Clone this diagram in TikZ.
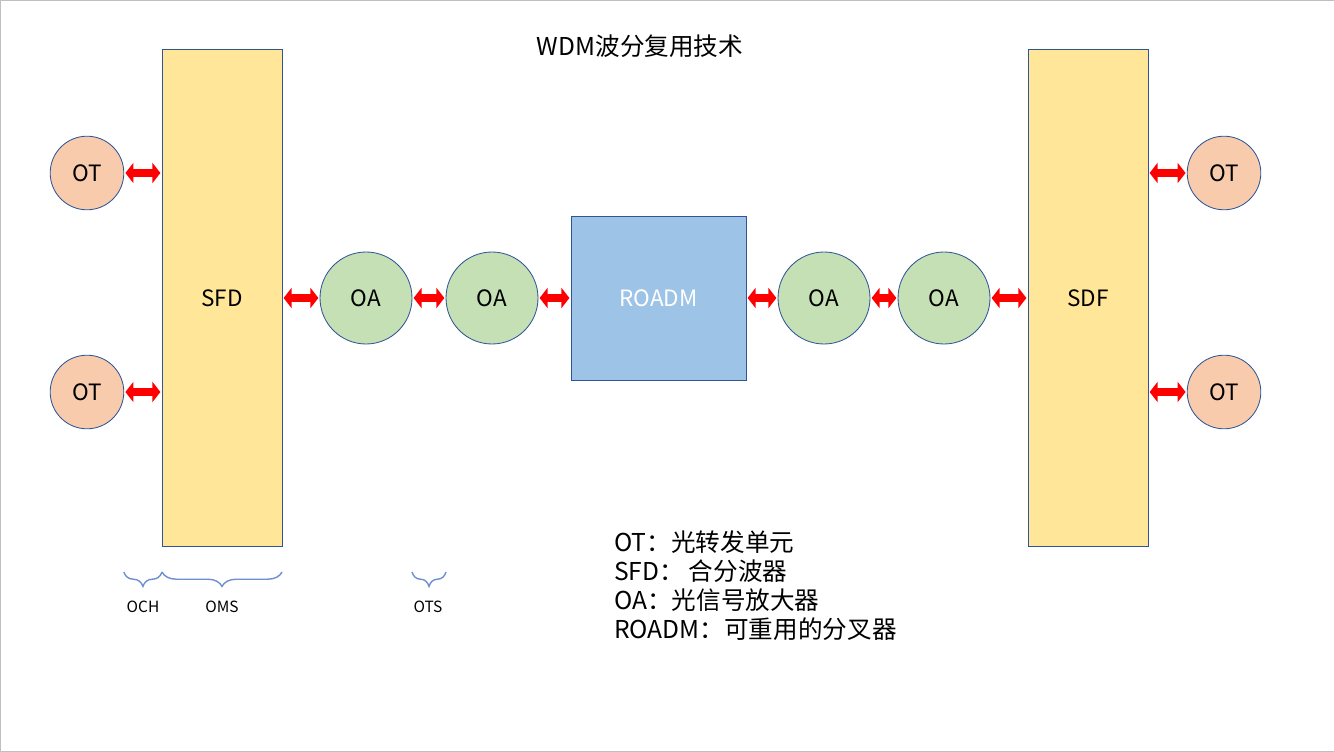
\documentclass[tikz,border=0pt]{standalone}
\usepackage{fontspec}
\setmainfont{Noto Sans CJK SC}
\usetikzlibrary{
    arrows.meta,    % For the double arrow tips
    positioning,    % For relative positioning of nodes
    decorations.pathreplacing % For the braces
}
\definecolor{otfill}{HTML}{F8CBAD}
\definecolor{oafill}{HTML}{C5E0B4}
\definecolor{muxfill}{HTML}{FFE699}
\definecolor{roadmfill}{HTML}{9DC3E6}
\definecolor{edge}{HTML}{2F5597}
\definecolor{bracecol}{HTML}{6F8FD0}
\definecolor{frame}{HTML}{BFBFBF}
\tikzset{
    % Style for the optical transponders
    terminal/.style={
        circle,
        draw=edge,
        line width=0.6pt,
        fill=otfill,
        minimum size=1.84cm,
        inner sep=0pt,
        outer sep=0pt,
        font=\fontsize{16}{19}\selectfont
    },
    % Style for the optical amplifiers
    amp/.style={
        circle,
        draw=edge,
        line width=0.6pt,
        fill=oafill,
        minimum size=2.3cm,
        inner sep=0pt,
        outer sep=0pt,
        font=\fontsize{16}{19}\selectfont
    },
    % Style for the multiplexer columns
    mux/.style={
        rectangle,
        draw=edge,
        line width=0.6pt,
        fill=muxfill,
        minimum width=3cm,
        minimum height=12.425cm,
        outer sep=0pt,
        font=\fontsize{16}{19}\selectfont
    },
    % Style for the ROADM box
    switch/.style={
        rectangle,
        draw=edge,
        line width=0.6pt,
        fill=roadmfill,
        text=white,
        minimum width=4.375cm,
        minimum height=4.1cm,
        outer sep=0pt,
        font=\fontsize{16}{19}\selectfont
    },
    % Style for the red double arrows
    link/.style={
        draw=red,
        line width=0.2cm,
        {Triangle[width=0.5cm,length=0.2cm]}-{Triangle[width=0.5cm,length=0.2cm]},
        shorten <=0.04cm,
        shorten >=0.04cm
    },
    % Style for the section braces
    bracket/.style={
        draw=bracecol,
        line width=1pt,
        decorate,
        decoration={brace, mirror, amplitude=0.36cm}
    },
    % Style for the brace labels
    caption/.style={
        font=\fontsize{11}{13}\selectfont
    }
}

\begin{document}
\begin{tikzpicture}[
            node distance=1cm and 1cm
        ]
        \useasboundingbox (0,0) rectangle (33.35,-18.8);
        \draw[frame, line width=0.025cm] (33.35,-0.0125) -- (0.0125,-0.0125) -- (0.0125,-18.7875) -- (33.35,-18.7875);

        % --- Title ---
        \node (title) at (16,-1.15) {\fontsize{17.5}{20}\selectfont WDM波分复用技术};

        % --- Main chain ---
        \node (sfd)   [mux] at (5.55,-7.45) {SFD};
        \node (oa1)   [amp, right=0.95cm of sfd]  {OA};
        \node (oa2)   [amp, right=0.85cm of oa1]  {OA};
        \node (roadm) [switch, right=0.825cm of oa2] {ROADM};
        \node (oa3)   [amp, right=0.8cm of roadm] {OA};
        \node (oa4)   [amp, right=0.7cm of oa3]   {OA};
        \node (sdf)   [mux, right=0.95cm of oa4]  {SDF};

        % --- Transponders ---
        \node (otl1) [terminal] at (2.175,-4.325) {OT};
        \node (otl2) [terminal] at (2.175,-9.8)   {OT};
        \node (otr1) [terminal] at (30.6,-4.325)  {OT};
        \node (otr2) [terminal] at (30.6,-9.8)    {OT};

        % Arrows
        \draw[link] (otl1) -- (otl1 -| sfd.west);
        \draw[link] (otl2) -- (otl2 -| sfd.west);
        \draw[link] (sfd) -- (oa1);
        \draw[link] (oa1) -- (oa2);
        \draw[link] (oa2) -- (roadm);
        \draw[link] (roadm) -- (oa3);
        \draw[link] (oa3) -- (oa4);
        \draw[link] (oa4) -- (sdf);
        \draw[link] (otr1 -| sdf.east) -- (otr1);
        \draw[link] (otr2 -| sdf.east) -- (otr2);

        % --- Braces under the chain ---
        \coordinate (bracey) at (0,-14.3);
        \draw[bracket] (otl2.east |- bracey) -- (sfd.west |- bracey);
        \draw[bracket] (sfd.west |- bracey) -- (sfd.east |- bracey);
        \draw[bracket] (oa1.east |- bracey) -- (oa2.west |- bracey);
        \node (och) [caption] at (3.575,-15.175) {OCH};
        \node (oms) [caption] at (5.55,-15.175)  {OMS};
        \node (ots) [caption] at (10.7,-15.175)  {OTS};

        % --- Legend ---
        \node (legend) [anchor=west, align=left, inner sep=0pt,
            font=\fontsize{17.5}{20.6}\selectfont] at (15.35,-14.65)
            {OT：光转发单元\\
             SFD：\hspace{0.2em}合分波器\\
             OA：光信号放大器\\
             ROADM：可重用的分叉器};

        \end{tikzpicture}
\end{document}
